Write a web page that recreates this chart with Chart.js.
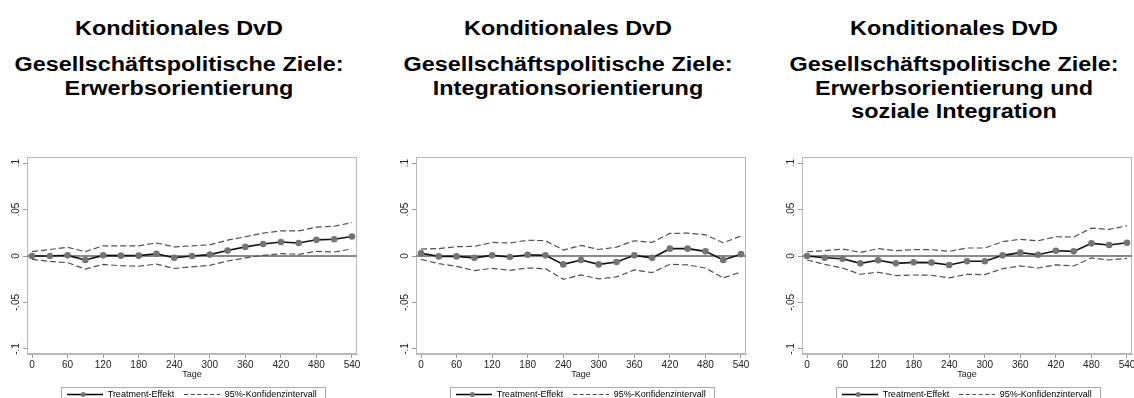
<!DOCTYPE html>
<html lang="de">
<head>
<meta charset="utf-8">
<title>Konditionales DvD</title>
<script src="https://cdn.jsdelivr.net/npm/chart.js@4.4.1/dist/chart.umd.min.js"></script>
<style>
  html, body { margin: 0; padding: 0; background: #fff; overflow: hidden; }
  body { width: 1134px; height: 398px; position: relative; font-family: Arial, "Liberation Sans", sans-serif; }
  .panel { position: absolute; top: 0; width: 383px; height: 398px; }
  .titel { position: absolute; left: 0; width: 358px; text-align: center; font-weight: bold; font-size: 20px; color: #000; }
  .titel div { transform: scaleX(1.17); white-space: nowrap; }
  .t1 { top: 16px; line-height: 24px; }
  .t2 { top: 53px; line-height: 23.5px; }
  .box { position: absolute; left: 0; top: 150px; width: 383px; height: 259px; }
</style>
</head>
<body>
<div class="panel" style="left:0px">
  <div class="titel t1"><div>Konditionales DvD</div></div>
  <div class="titel t2"><div>Gesellschäftspolitische Ziele:</div><div>Erwerbsorientierung</div></div>
  <div class="box"><canvas id="erwerb"></canvas></div>
</div>
<div class="panel" style="left:389px">
  <div class="titel t1"><div>Konditionales DvD</div></div>
  <div class="titel t2"><div>Gesellschäftspolitische Ziele:</div><div>Integrationsorientierung</div></div>
  <div class="box"><canvas id="integration"></canvas></div>
</div>
<div class="panel" style="left:775px">
  <div class="titel t1"><div>Konditionales DvD</div></div>
  <div class="titel t2"><div>Gesellschäftspolitische Ziele:</div><div>Erwerbsorientierung und</div><div>soziale Integration</div></div>
  <div class="box"><canvas id="beides"></canvas></div>
</div>

<script>
const tage = [0, 30, 60, 90, 120, 150, 180, 210, 240, 270, 300, 330, 360, 390, 420, 450, 480, 510, 540];
const xTicks = [0, 60, 120, 180, 240, 300, 360, 420, 480, 540];
const yTicks = [-0.1, -0.05, 0, 0.05, 0.1];
const yTickLabels = ['-.1', '-.05', '0', '.05', '.1'];

// Erwerbsorientierung
const effektErwerb = [0, 0, 0.0007, -0.0043, 0.0007, 0.0004, 0.0004, 0.0025, -0.0018, 0, 0.0015, 0.006, 0.0098, 0.013, 0.015, 0.014, 0.0174, 0.018, 0.021];
const obenErwerb = [0.0047, 0.007, 0.0094, 0.0047, 0.011, 0.011, 0.011, 0.014, 0.0098, 0.011, 0.012, 0.017, 0.0207, 0.0246, 0.027, 0.027, 0.031, 0.032, 0.036];
const untenErwerb = [-0.0036, -0.0058, -0.0072, -0.014, -0.009, -0.0105, -0.011, -0.0087, -0.0134, -0.0116, -0.010, -0.0054, -0.002, 0.0007, 0.0025, 0.0018, 0.005, 0.0043, 0.0076];

// Integrationsorientierung
const effektIntegration = [0.003, -0.0004, -0.0004, -0.002, 0.0007, -0.001, 0.0014, 0.0007, -0.009, -0.0043, -0.009, -0.0064, 0.0007, -0.002, 0.0079, 0.0079, 0.005, -0.0043, 0.002];
const obenIntegration = [0.0075, 0.008, 0.01, 0.0104, 0.0146, 0.014, 0.017, 0.0164, 0.0064, 0.0114, 0.007, 0.0096, 0.0164, 0.0146, 0.0243, 0.0246, 0.0228, 0.0143, 0.0214];
const untenIntegration = [-0.0036, -0.0082, -0.0111, -0.0157, -0.0132, -0.0154, -0.0129, -0.0136, -0.025, -0.0204, -0.0246, -0.0225, -0.015, -0.0179, -0.0089, -0.0096, -0.0129, -0.0236, -0.0171];

// Erwerbsorientierung und soziale Integration
const effektBeides = [0, -0.0018, -0.0029, -0.0079, -0.0046, -0.0079, -0.0068, -0.0071, -0.0096, -0.0057, -0.0057, 0.0007, 0.0036, 0.0014, 0.0057, 0.005, 0.0136, 0.0118, 0.0143];
const obenBeides = [0.0046, 0.0057, 0.0075, 0.0039, 0.0079, 0.0057, 0.0068, 0.0068, 0.005, 0.0086, 0.0086, 0.0154, 0.018, 0.0164, 0.0207, 0.0204, 0.03, 0.0286, 0.0325];
const untenBeides = [-0.0043, -0.009, -0.0129, -0.0196, -0.0175, -0.021, -0.0204, -0.0207, -0.0236, -0.0196, -0.02, -0.0136, -0.0107, -0.0129, -0.0096, -0.0107, -0.0021, -0.0043, -0.0025];

const DASH = [6, 3];

// small canvases used as legend symbols
function symbol(dash) {
    const c = document.createElement('canvas');
    c.width = 36; c.height = 9;
    const g = c.getContext('2d');
    g.strokeStyle = dash ? '#444' : '#000';
    g.lineWidth = dash ? 1 : 1.5;
    g.setLineDash(dash || []);
    g.beginPath(); g.moveTo(0, 4.5); g.lineTo(36, 4.5); g.stroke();
    if (!dash) {
        g.fillStyle = '#777';
        g.beginPath(); g.arc(16, 4.5, 2.5, 0, Math.PI * 2); g.fill();
    }
    return c;
}
const symEffekt = symbol(null);
const symKI = symbol([4, 2.5]);

// plot frame and zero line
const rahmen = {
    id: 'rahmen',
    beforeDatasetsDraw(chart) {
        const {ctx, chartArea: a, scales} = chart;
        ctx.save();
        ctx.strokeStyle = '#b8b8b8';
        ctx.lineWidth = 1;
        ctx.strokeRect(a.left + 0.5, a.top + 0.5, a.right - a.left - 1, a.bottom - a.top - 1);
        const y0 = scales.y.getPixelForValue(0);
        ctx.strokeStyle = '#8a8a8a';
        ctx.lineWidth = 2;
        ctx.beginPath(); ctx.moveTo(a.left, y0); ctx.lineTo(a.right, y0); ctx.stroke();
        ctx.restore();
    }
};

// legend sits centred under the plot, with a box round its entries
const legendeRahmen = {
    id: 'legendeRahmen',
    afterLayout(chart) {
        const lg = chart.legend;
        const shift = (chart.chartArea.left + chart.chartArea.right) / 2 - (lg.left + lg.right) / 2;
        lg.left += shift;
        lg.right += shift;
    },
    afterDraw(chart) {
        const boxes = chart.legend.legendHitBoxes;
        if (!boxes || !boxes.length) return;
        const l = Math.min(...boxes.map(b => b.left)) - 6;
        const r = Math.max(...boxes.map(b => b.left + b.width)) + 8;
        const t = boxes[0].top - 3;
        const ctx = chart.ctx;
        ctx.save();
        ctx.strokeStyle = '#aaa';
        ctx.lineWidth = 1;
        ctx.strokeRect(Math.round(l) + 0.5, Math.round(t) + 0.5, Math.round(r - l), 22);
        ctx.restore();
    }
};

function zeichne(id, effekt, oben, unten) {
    const punkte = arr => tage.map((t, i) => ({x: t, y: arr[i]}));
    new Chart(document.getElementById(id), {
        type: 'line',
        data: {
            datasets: [
                { label: 'Treatment-Effekt', data: punkte(effekt), borderColor: '#111', borderWidth: 1.6,
                  pointRadius: 3.3, pointBackgroundColor: '#747474', pointBorderColor: '#747474', pointBorderWidth: 0, tension: 0 },
                { label: '95%-Konfidenzintervall', data: punkte(oben), borderColor: '#505050', borderWidth: 1.2,
                  borderDash: DASH, pointRadius: 0, tension: 0 },
                { label: 'unten', data: punkte(unten), borderColor: '#505050', borderWidth: 1.2,
                  borderDash: DASH, pointRadius: 0, tension: 0 }
            ]
        },
        options: {
            responsive: true,
            maintainAspectRatio: false,
            animation: false,
            layout: { padding: { top: 7, left: 0, right: 26, bottom: 0 } },
            scales: {
                x: {
                    type: 'linear', min: -8.44, max: 548.44,
                    afterBuildTicks: s => { s.ticks = xTicks.map(v => ({value: v})); },
                    afterFit: s => { s.height = 26; },
                    ticks: { maxRotation: 0, padding: 1, font: {size: 10}, color: '#222' },
                    grid: { drawOnChartArea: false, tickLength: 4, tickColor: '#999' },
                    border: { color: '#b8b8b8' },
                    title: { display: true, text: 'Tage', font: {size: 9}, color: '#222', padding: {top: 0, bottom: 0} }
                },
                y: {
                    min: -0.1054, max: 0.1065,
                    afterBuildTicks: s => { s.ticks = yTicks.map(v => ({value: v})); },
                    afterFit: s => { s.width = 27; },
                    ticks: { minRotation: 90, maxRotation: 90, crossAlign: 'center', padding: -2,
                             font: {size: 10}, color: '#222', callback: (v, i) => yTickLabels[i] },
                    grid: { drawOnChartArea: false, tickLength: 4, tickColor: '#999' },
                    border: { color: '#b8b8b8' }
                }
            },
            plugins: {
                tooltip: { enabled: false },
                legend: {
                    position: 'bottom',
                    labels: {
                        usePointStyle: true, pointStyleWidth: 36, boxHeight: 9, padding: 10,
                        font: {size: 9}, color: '#222',
                        generateLabels: () => [
                            { text: 'Treatment-Effekt', pointStyle: symEffekt, lineWidth: 0, hidden: false, datasetIndex: 0 },
                            { text: '95%-Konfidenzintervall', pointStyle: symKI, lineWidth: 0, hidden: false, datasetIndex: 1 }
                        ]
                    }
                }
            }
        },
        plugins: [rahmen, legendeRahmen]
    });
}

zeichne('erwerb', effektErwerb, obenErwerb, untenErwerb);
zeichne('integration', effektIntegration, obenIntegration, untenIntegration);
zeichne('beides', effektBeides, obenBeides, untenBeides);
</script>
</body>
</html>
